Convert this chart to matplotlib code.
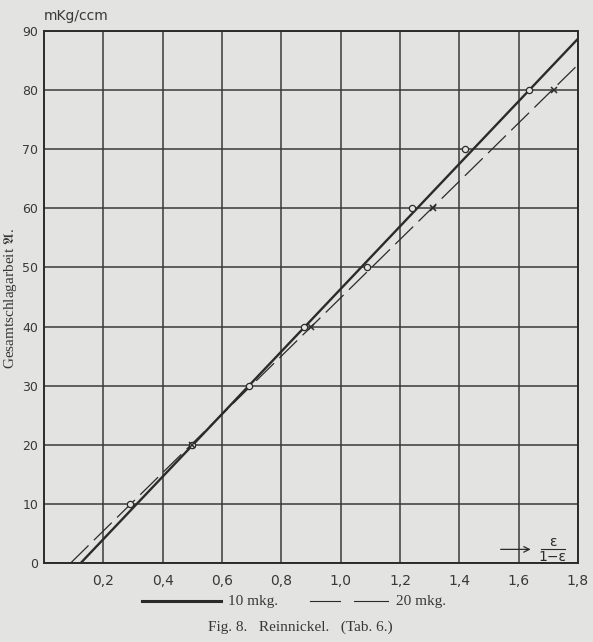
import matplotlib.pyplot as plt
from matplotlib.lines import Line2D

plt.rcParams["mathtext.fontset"] = "stix"

# 10 mkg. series (circles) and its drawn line
x10 = [0.29, 0.50, 0.69, 0.875, 1.09, 1.24, 1.42, 1.635]
y10 = [10, 20, 30, 40, 50, 60, 70, 80]
line10_x = [0.124, 1.8]
line10_y = [0, 88.7]

# 20 mkg. series (crosses) and its drawn line
x20 = [0.50, 0.90, 1.31, 1.72]
y20 = [20, 40, 60, 80]
line20_x = [0.09, 1.8]
line20_y = [0, 84.3]

xticks = [0.2, 0.4, 0.6, 0.8, 1.0, 1.2, 1.4, 1.6, 1.8]
yticks = [0, 10, 20, 30, 40, 50, 60, 70, 80, 90]

paper = "#e3e3e1"
ink = "#2b2b2b"
txt = "#383838"

fig = plt.figure(figsize=(5.93, 6.42), dpi=100, facecolor=paper)
ax = fig.add_axes([0.0742, 0.1231, 0.9005, 0.8286], facecolor=paper)

ax.set_xlim(0, 1.8)
ax.set_ylim(0, 90)
ax.set_xticks(xticks)
ax.set_xticklabels([f"{t:.1f}".replace(".", ",") for t in xticks],
                   family="DejaVu Sans", fontsize=10, color=txt)
ax.set_yticks(yticks)
ax.set_yticklabels([str(t) for t in yticks], family="DejaVu Sans",
                   fontsize=9, color=txt)
ax.tick_params(axis="x", length=0, pad=8)
ax.tick_params(axis="y", length=0, pad=4)
ax.grid(True, color="#3a3a3a", linewidth=1.1)
for s in ax.spines.values():
    s.set_color(ink)
    s.set_linewidth(1.4)

ax.plot(line10_x, line10_y, color=ink, linewidth=1.7, solid_capstyle="butt")
ax.plot(line20_x, line20_y, color=ink, linewidth=0.9, dashes=(20, 6))
ax.plot(x10, y10, linestyle="none", marker="o", markersize=4.5,
        markerfacecolor=paper, markeredgecolor=ink, markeredgewidth=0.9)
ax.plot(x20, y20, linestyle="none", marker="x", markersize=4.5,
        color=ink, markeredgewidth=1.1)

ax.text(0.0, 1.015, "mKg/ccm", transform=ax.transAxes, fontsize=10,
        family="DejaVu Sans", color=txt, va="bottom", ha="left")
fig.text(11 / 593, 1 - 299 / 642, r"Gesamtschlagarbeit $\mathfrak{A}$.",
         family="Liberation Serif", fontsize=11, color=txt, rotation=90,
         ha="center", va="center")

# arrow and fraction at lower right
ax.annotate("", xy=(1.65, 2.3), xytext=(1.53, 2.3),
            arrowprops=dict(arrowstyle="->", color=ink, lw=0.9))
ax.text(1.715, 3.5, "ε", fontsize=10, family="DejaVu Sans",
        ha="center", va="center", color=ink)
ax.plot([1.675, 1.755], [2.3, 2.3], color=ink, linewidth=0.8)
ax.text(1.715, 1.0, "1−ε", fontsize=10, family="DejaVu Sans",
        ha="center", va="center", color=ink)

# legend below the chart
fig.add_artist(Line2D([142 / 593, 221 / 593], [1 - 601 / 642] * 2,
                      color=ink, linewidth=2.2))
fig.text(228 / 593, 1 - 601 / 642, "10 mkg.", family="Liberation Serif",
         fontsize=11, va="center", color=txt)
fig.add_artist(Line2D([310 / 593, 340 / 593], [1 - 601 / 642] * 2,
                      color=ink, linewidth=0.8))
fig.add_artist(Line2D([354 / 593, 388 / 593], [1 - 601 / 642] * 2,
                      color=ink, linewidth=0.8))
fig.text(396 / 593, 1 - 601 / 642, "20 mkg.", family="Liberation Serif",
         fontsize=11, va="center", color=txt)
fig.text(300 / 593, 1 - 627 / 642, "Fig. 8.   Reinnickel.   (Tab. 6.)",
         family="Liberation Serif", fontsize=11, ha="center", va="center",
         color=txt)

fig.savefig("out.png", dpi=100, facecolor=paper)
